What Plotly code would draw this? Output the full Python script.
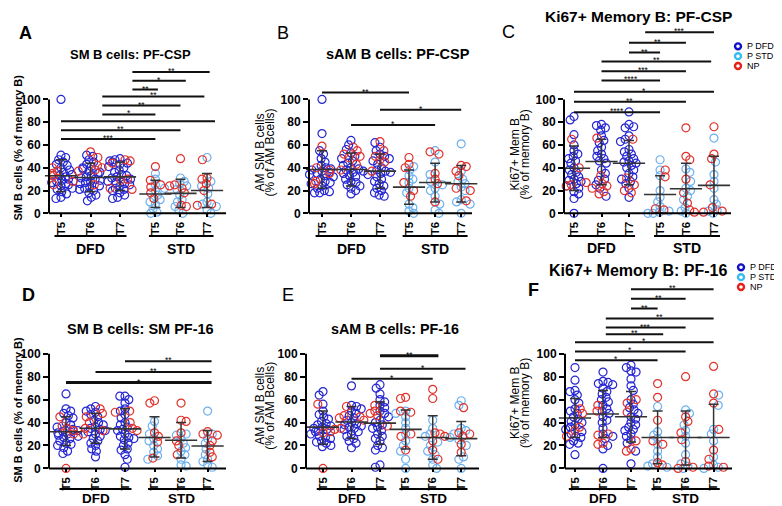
import math
import plotly.graph_objects as go

W, H = 782, 506
FONT = "Liberation Sans, Arial, Helvetica, sans-serif"

# ---------------- text / categories ----------------
TICK_LABELS = ["T5", "T6", "T7", "T5", "T6", "T7"]
GROUP_LABELS = ["DFD", "STD"]
SERIES = ["P DFD", "P STD", "NP"]
Y_TICKS = [0, 20, 40, 60, 80, 100]
PANEL_LETTERS = ["A", "B", "C", "D", "E", "F"]
PANEL_TITLES = ["SM B cells: PF-CSP", "sAM B cells: PF-CSP", "Ki67+ Memory B: PF-CSP",
                "SM B cells: SM PF-16", "sAM B cells: PF-16", "Ki67+ Memory B: PF-16"]
Y_TITLES = [["SM B cells (% of memory B)"], ["AM SM B cells", "(% of AM Bcells)"],
            ["Ki67+ Mem B", "(% of memory B)"], ["SM B cells (% of memory B)"],
            ["AM SM B cells", "(% of AM Bcells)"], ["Ki67+ Mem B", "(% of memory B)"]]

# ---------------- data: per panel, 6 groups (DFD T5-T7, STD T5-T7) ----------------
# *_P  : patients (P DFD for first 3 groups, P STD for last 3)
# *_NP : non-parasitaemic
A_P = [[100, 51, 49, 47, 45, 43, 42, 40, 38, 36, 34, 33, 32, 31, 30, 29, 28, 27, 26, 25, 24, 23, 22, 21, 19, 17, 14, 13],
       [51, 50, 47, 45, 43, 41, 40, 39, 37, 36, 35, 33, 32, 31, 30, 29, 28, 27, 26, 24, 23, 22, 21, 20, 18, 16, 14, 11],
       [48, 47, 46, 45, 44, 43, 41, 40, 38, 36, 34, 33, 32, 31, 30, 28, 27, 26, 25, 24, 22, 21, 20, 18, 16, 14, 13],
       [35, 30, 25, 22, 20, 16, 12, 10, 8, 4, 1, 0],
       [31, 28, 26, 24, 21, 16, 12, 10, 6, 3, 0],
       [49, 28, 24, 22, 17, 10, 8, 6, 3, 0]]
A_NP = [[40, 37, 35, 33, 28, 25], [54, 49, 42, 40, 38, 37, 25], [47, 46, 44, 30, 29, 22, 21],
        [41, 29, 25, 23, 18, 13], [48, 25, 24, 22, 18, 7, 6], [47, 31, 30, 26, 20, 8, 7]]
A_MID = [33, 31.5, 32, 17, 17.5, 20]
A_LO = [19, 19, 20, 5, 5, 5]
A_HI = [47, 44, 45, 29, 30, 35]

B_P = [[100, 70, 55, 52, 48, 45, 42, 40, 39, 38, 37, 36, 35, 34, 33, 32, 30, 28, 27, 26, 24, 22, 20, 19, 18, 18],
       [64, 60, 56, 53, 50, 48, 46, 44, 42, 40, 39, 38, 37, 36, 35, 33, 32, 30, 28, 27, 25, 24, 22, 20, 17],
       [62, 58, 55, 52, 50, 48, 46, 43, 40, 38, 37, 36, 35, 34, 32, 30, 28, 26, 24, 22, 20, 18, 16, 15],
       [41, 38, 33, 30, 27, 22, 18, 8, 5, 2, 0],
       [55, 45, 34, 28, 25, 22, 20, 15, 8, 3, 0],
       [61, 37, 30, 28, 26, 23, 20, 12, 10, 8, 0]]
B_NP = [[59, 40, 38, 35, 28, 26], [58, 55, 52, 50, 49, 43, 38], [63, 55, 50, 47, 45, 37],
        [49, 43, 40, 27, 20, 15], [54, 52, 35, 30, 26, 10], [42, 41, 37, 33, 22, 20, 11]]
B_MID = [38.5, 38.5, 37, 23, 27, 26]
B_LO = [22, 24, 22, 8, 10, 10]
B_HI = [55, 53, 52, 38, 44, 42]

C_P = [[85, 82, 69, 60, 55, 52, 50, 48, 46, 44, 40, 38, 36, 34, 32, 30, 29, 28, 26, 24, 22, 19, 17, 13, 0],
       [78, 77, 75, 73, 68, 64, 62, 58, 55, 52, 50, 48, 46, 44, 38, 35, 30, 29, 25, 22, 15],
       [89, 78, 76, 75, 68, 65, 63, 56, 54, 52, 50, 48, 46, 45, 44, 42, 40, 38, 35, 32, 30, 28, 26, 22, 14],
       [47, 38, 33, 20, 14, 10, 6, 2, 1, 0, 0],
       [39, 36, 28, 22, 20, 15, 12, 5, 2, 0],
       [66, 45, 34, 28, 22, 12, 8, 3, 2, 0]]
C_NP = [[65, 40, 28, 27, 25, 24], [66, 33, 26, 24, 22, 19, 17], [65, 31, 25, 20, 18],
        [38, 32, 4, 3], [75, 50, 47, 30, 18, 9, 3, 1], [76, 52, 48, 25, 5, 2, 1]]
C_MID = [39.5, 45.5, 44, 16.5, 21.5, 24.5]
C_LO = [20, 25, 25, 0, 0, 0]
C_HI = [59, 65, 64, 33, 44, 50]

D_P = [[65, 52, 50, 48, 46, 44, 40, 38, 36, 34, 33, 32, 31, 30, 29, 28, 27, 26, 24, 22, 21, 20, 18, 15, 13],
       [54, 52, 50, 49, 47, 45, 42, 40, 38, 36, 35, 34, 33, 32, 30, 28, 26, 24, 22, 20, 17, 15, 10],
       [63, 63, 60, 57, 52, 50, 47, 44, 40, 38, 36, 34, 33, 30, 28, 27, 26, 25, 22, 20, 17, 16, 12, 8, 1],
       [41, 37, 30, 26, 24, 20, 17, 14, 11, 8],
       [30, 29, 26, 22, 18, 15, 12, 8, 3, 2],
       [50, 30, 26, 22, 17, 12, 8, 6, 3, 1]]
D_NP = [[45, 37, 35, 33, 30, 0], [52, 48, 45, 40, 35, 33, 30], [50, 49, 40, 35, 33],
        [59, 57, 31, 28, 23, 9], [57, 42, 41, 31, 24, 20, 12], [32, 30, 29, 24, 20, 14, 10]]
D_MID = [32, 35, 34.5, 27, 24.5, 19.5]
D_LO = [20, 22, 17, 10, 9, 6]
D_HI = [45, 48, 52, 45, 40, 33]

E_P = [[67, 64, 56, 50, 47, 45, 43, 41, 39, 38, 37, 36, 35, 34, 33, 32, 30, 28, 27, 26, 24, 23, 22, 20, 19],
       [72, 55, 54, 52, 50, 48, 46, 44, 42, 40, 39, 38, 37, 36, 35, 34, 32, 30, 28, 26, 24, 22, 18],
       [73, 70, 65, 60, 58, 55, 53, 50, 48, 45, 42, 40, 38, 36, 35, 33, 30, 28, 26, 24, 20, 18, 16, 3, 1],
       [50, 48, 45, 40, 35, 30, 24, 20, 15, 8, 0],
       [42, 35, 30, 28, 23, 20, 15, 12, 8, 3, 0],
       [59, 55, 35, 33, 30, 27, 25, 20, 10, 8, 0]]
E_NP = [[56, 34, 32, 31, 0], [54, 46, 45, 44, 42, 35], [55, 50, 48, 46, 37],
        [62, 61, 50, 49, 30, 28, 16], [69, 61, 31, 30, 28, 24, 16, 8], [53, 31, 30, 28, 21, 14]]
E_MID = [36, 40.5, 39.5, 34, 27, 26]
E_LO = [21, 26, 21, 17, 8, 11]
E_HI = [50, 54, 58, 51, 46, 41]

F_P = [[88, 77, 68, 67, 64, 60, 57, 52, 50, 48, 45, 43, 41, 40, 38, 36, 34, 32, 30, 28, 27, 24, 22, 21, 12],
       [84, 76, 75, 74, 73, 70, 67, 65, 62, 60, 58, 55, 52, 50, 48, 45, 42, 40, 35, 30, 28, 26, 20, 17, 0],
       [90, 88, 85, 84, 78, 72, 68, 60, 56, 53, 51, 48, 45, 43, 40, 38, 36, 34, 33, 30, 28, 25, 22, 15, 4],
       [54, 32, 29, 26, 21, 15, 10, 4, 2, 1],
       [51, 48, 38, 33, 28, 22, 12, 4, 2, 0],
       [64, 55, 34, 30, 24, 10, 3, 1, 0]]
F_NP = [[52, 48, 36, 33, 28], [55, 50, 30, 29, 22, 21], [60, 57, 49, 24, 17, 15],
        [74, 62, 42, 24, 21, 5, 3], [80, 45, 41, 31, 25, 6, 1, 0], [89, 65, 57, 34, 16, 8, 2, 1]]
F_MID = [44, 47.5, 45, 27, 27, 27]
F_LO = [27, 27, 23, 4, 3, 0]
F_HI = [61, 68, 67, 50, 50, 56]

# significance bars: (from category index, to category index, level, stars)
A_SIG = [(0, 3, 65.3, "***"), (0, 4, 73.0, "**"), (0, 5.3, 80.8, ""), (1.4, 3, 86.8, "*"),
         (1.4, 4, 94.6, "**"), (1.4, 4.9, 102.6, "**"), (2.35, 3.1, 108.6, "**"),
         (2.35, 4.2, 116.4, "*"), (2.35, 5.1, 124.1, "**")]
B_SIG = [(0, 3, 106.0, "**"), (2, 5, 90.8, "*"), (1, 4, 77.6, "*")]
C_SIG = [(2.52, 5, 158.9, "***"), (2, 4, 149.7, "**"), (2, 3, 141.1, "**"), (1, 4.9, 133.3, "**"),
         (1, 4, 124.7, "***"), (1, 3, 116.6, "****"), (0, 5, 106.6, "*"), (0, 4, 98.0, "**"),
         (0, 3, 88.8, "****")]
D_SIG = [(2, 5.15, 93.4, "**"), (1, 5.15, 84.0, "**"), (0, 5.15, 74.9, "*")]
E_SIG = [(2, 4.2, 98.3, "**"), (2, 5.15, 86.9, "*"), (1, 4, 78.3, "*")]
F_SIG = [(2, 5, 156.3, "**"), (2, 4, 148.0, "**"), (2, 3, 139.4, "**"), (1.1, 5, 130.8, "**"),
         (1.1, 4, 122.9, "***"), (1.1, 3.2, 117.1, "**"), (0, 5, 110.0, "*"), (0, 4, 102.0, "*"),
         (0, 3, 94.3, "*")]

COLORS = {"P DFD": "#2626d2", "P STD": "#6eb0ee", "NP": "#e2322c"}
LEGEND_COLORS = {"P DFD": "#1010c8", "P STD": "#38bdf0", "NP": "#e8201a"}
ERR_COLOR = "#333333"

# ---------------- layout geometry (pixels) ----------------
PANELS = [
    dict(ax=41, xend=218, p0=53, u=29.5, pos=[0, 1, 2, 3.2, 4.05, 4.95], y0=207, y100=91, top=50,
         title=(122, 45, 13), letter=(17, 23, True), ytl=[(10, 140)], ytbold=True, ytsize=11,
         legend=None, thick=[], grp=(23, 36, 14)),
    dict(ax=301, xend=464, p0=314, u=29, pos=[0, 1, 2, 3, 3.9, 4.8], y0=207, y100=91, top=70,
         title=(390, 45, 14.5), letter=(275, 23, False), ytl=[(252, 145), (262, 145)], ytbold=False, ytsize=12,
         legend=None, thick=[], grp=(23, 36, 14)),
    dict(ax=556, xend=723, p0=566, u=27.5, pos=[0, 1, 2, 3.13, 4.07, 5.09], y0=207, y100=91, top=14,
         title=(630, 7, 15.5), letter=(500, 22, False), ytl=[(507, 147), (517, 147)], ytbold=False, ytsize=12,
         legend=(730, 37, 10), thick=[], grp=(23, 35, 14)),
    dict(ax=41, xend=218, p0=58, u=29.5, pos=[0, 1, 2, 3, 3.9, 4.8], y0=466.7, y100=350, top=345,
         title=(132, 325, 14.5), letter=(20, 290, True), ytl=[(10, 407)], ytbold=True, ytsize=11,
         legend=None, thick=[2], grp=(21, 30.5, 13.5)),
    dict(ax=298, xend=471, p0=315, u=28.5, pos=[0, 1, 2, 2.9, 3.85, 4.85], y0=466.7, y100=350, top=340,
         title=(387, 325, 14.3), letter=(280, 290, False), ytl=[(252, 403), (262, 403)], ytbold=False, ytsize=12,
         legend=None, thick=[0], grp=(21, 30.5, 13.5)),
    dict(ax=557, xend=724, p0=567, u=28, pos=[0, 1, 2, 2.95, 3.95, 4.95], y0=466.7, y100=350, top=275,
         title=(630, 265, 16), letter=(525, 285, True), ytl=[(507, 400), (517, 400)], ytbold=False, ytsize=12,
         legend=(733, 262, 10), thick=[], grp=(21, 30.5, 13.5)),
]
DATA = [(A_P, A_NP, A_MID, A_LO, A_HI, A_SIG), (B_P, B_NP, B_MID, B_LO, B_HI, B_SIG),
        (C_P, C_NP, C_MID, C_LO, C_HI, C_SIG), (D_P, D_NP, D_MID, D_LO, D_HI, D_SIG),
        (E_P, E_NP, E_MID, E_LO, E_HI, E_SIG), (F_P, F_NP, F_MID, F_LO, F_HI, F_SIG)]


def swarm(vals, s, D=5.2, cap=12.5):
    order = sorted(range(len(vals)), key=lambda i: -vals[i])
    placed, offs = [], [0.0] * len(vals)
    for n, i in enumerate(order):
        y = vals[i] * s
        near = [(xj, yj) for xj, yj in placed if abs(yj - y) < D]
        cands = [0.0]
        for xj, yj in near:
            dx = math.sqrt(max(D * D - (yj - y) ** 2, 0))
            cands += [xj - dx, xj + dx]
        sign = 1 if n % 2 == 0 else -1
        cands.sort(key=lambda c: (round(abs(c), 3), -sign * c))
        best = 0.0
        for c in cands:
            if abs(c) > cap:
                continue
            if all((c - xj) ** 2 + (y - yj) ** 2 >= D * D - 1e-6 for xj, yj in near):
                best = c
                break
        else:
            best = sign * cap * 0.6
        offs[i] = best
        placed.append((best, y))
    return offs


def cat_x(pos, idx):
    if idx <= 0:
        return pos[0] + idx * (pos[1] - pos[0])
    if idx >= len(pos) - 1:
        return pos[-1] + (idx - len(pos) + 1) * (pos[-1] - pos[-2])
    k = int(math.floor(idx))
    f = idx - k
    return pos[k] + f * (pos[k + 1] - pos[k])


fig = go.Figure()
layout = dict(width=W, height=H, margin=dict(l=0, r=0, t=0, b=0), paper_bgcolor="white",
              plot_bgcolor="rgba(0,0,0,0)", showlegend=False, font=dict(family=FONT, color="black"))
shapes, annotations = [], []

for k, (cfg, (P, NP, MID, LO, HI, SIG)) in enumerate(zip(PANELS, DATA), start=1):
    xa = "x" if k == 1 else f"x{k}"
    ya = "y" if k == 1 else f"y{k}"
    s = (cfg["y0"] - cfg["y100"]) / 100.0
    u = cfg["u"]
    pos = cfg["pos"]
    x_dom = [cfg["ax"] / W, cfg["xend"] / W]
    x_rng = [(cfg["ax"] - cfg["p0"]) / u, (cfg["xend"] - cfg["p0"]) / u]
    y_dom = [1 - cfg["y0"] / H, 1 - cfg["top"] / H]
    y_rng = [0, (cfg["y0"] - cfg["top"]) / s]

    def xp(v):
        return x_dom[0] + (v - x_rng[0]) / (x_rng[1] - x_rng[0]) * (x_dom[1] - x_dom[0])

    def yp(v):
        return y_dom[0] + (v - y_rng[0]) / (y_rng[1] - y_rng[0]) * (y_dom[1] - y_dom[0])

    # points
    pts = {"P DFD": ([], []), "P STD": ([], []), "NP": ([], [])}
    for g in range(6):
        main_name = "P DFD" if g < 3 else "P STD"
        vals = list(P[g]) + list(NP[g])
        offs = swarm(vals, s)
        for i, v in enumerate(vals):
            name = main_name if i < len(P[g]) else "NP"
            pts[name][0].append(pos[g] + offs[i] / u)
            pts[name][1].append(v)
    for name in SERIES:
        if not pts[name][0]:
            continue
        fig.add_trace(go.Scatter(x=pts[name][0], y=pts[name][1], mode="markers", xaxis=xa, yaxis=ya,
                                 marker=dict(symbol="circle-open", size=8, color=COLORS[name],
                                             line=dict(width=1.2, color=COLORS[name])),
                                 cliponaxis=False, hoverinfo="skip", name=name))
    # mean +- spread
    fig.add_trace(go.Scatter(x=pos, y=MID, mode="markers", xaxis=xa, yaxis=ya, cliponaxis=False,
                             marker=dict(symbol="line-ew", size=23, color=ERR_COLOR,
                                         line=dict(width=1.6, color=ERR_COLOR)),
                             error_y=dict(type="data", symmetric=False,
                                          array=[h - m for h, m in zip(HI, MID)],
                                          arrayminus=[m - l for m, l in zip(MID, LO)],
                                          color=ERR_COLOR, thickness=1.5, width=5),
                             hoverinfo="skip"))

    layout[f"xaxis{'' if k == 1 else k}"] = dict(
        domain=x_dom, range=x_rng, anchor=ya, tickmode="array", tickvals=pos, ticktext=TICK_LABELS,
        tickangle=-90, ticks="outside", ticklen=3, tickwidth=1.5, tickcolor="black", showline=False,
        showgrid=False, zeroline=False, fixedrange=True,
        tickfont=dict(family=FONT, size=11.5, color="black", weight="bold"))
    layout[f"yaxis{'' if k == 1 else k}"] = dict(
        domain=y_dom, range=y_rng, anchor=xa, tickmode="array", tickvals=Y_TICKS, ticks="outside",
        ticklen=5, tickwidth=2, tickcolor="black", showline=False, showgrid=False, zeroline=False,
        fixedrange=True, tickfont=dict(family=FONT, size=12, color="black", weight="bold"))

    # axis lines (y axis only spans 0..100)
    shapes.append(dict(type="line", xref="paper", yref="paper", x0=x_dom[0], x1=x_dom[0],
                       y0=yp(0), y1=yp(100), line=dict(color="black", width=2)))
    shapes.append(dict(type="line", xref="paper", yref="paper", x0=x_dom[0], x1=x_dom[1],
                       y0=yp(0), y1=yp(0), line=dict(color="black", width=2)))

    # group underlines and labels
    goff, loff, gsz = cfg["grp"]
    gy = 1 - (cfg["y0"] + goff) / H
    ly = 1 - (cfg["y0"] + loff) / H
    for gi, (a, b) in enumerate([(0, 2), (3, 5)]):
        x0, x1 = xp(pos[a] - 0.22), xp(pos[b] + 0.22)
        shapes.append(dict(type="line", xref="paper", yref="paper", x0=x0, x1=x1, y0=gy, y1=gy,
                           line=dict(color="black", width=2)))
        annotations.append(dict(xref="paper", yref="paper", x=(x0 + x1) / 2, y=ly, text=GROUP_LABELS[gi],
                                showarrow=False, xanchor="center", yanchor="middle", borderpad=0,
                                font=dict(family=FONT, size=gsz, color="black", weight="bold")))

    # significance bars
    for j, (i0, i1, lev, lab) in enumerate(SIG):
        x0, x1 = cat_x(pos, i0), cat_x(pos, i1)
        w = 3 if j in cfg["thick"] else 2
        shapes.append(dict(type="line", xref=xa, yref=ya, x0=x0, x1=x1, y0=lev, y1=lev,
                           line=dict(color="#111111", width=w)))
        if lab:
            annotations.append(dict(xref=xa, yref=ya, x=(x0 + x1) / 2, y=lev, text=lab, showarrow=False,
                                    xanchor="center", yanchor="bottom", yshift=-5, borderpad=0,
                                    font=dict(family=FONT, size=8.5, color="black")))

    # title, letter, y-title
    tx, ty, tsz = cfg["title"]
    annotations.append(dict(xref="paper", yref="paper", x=tx / W, y=1 - ty / H, text=PANEL_TITLES[k - 1],
                            showarrow=False, xanchor="center", yanchor="middle", borderpad=0,
                            font=dict(family=FONT, size=tsz, color="black", weight="bold")))
    lx, lyy, lb = cfg["letter"]
    annotations.append(dict(xref="paper", yref="paper", x=lx / W, y=1 - lyy / H, text=PANEL_LETTERS[k - 1],
                            showarrow=False, xanchor="center", yanchor="middle",
                            font=dict(family=FONT, size=18, color="black",
                                      weight="bold" if lb else "normal")))
    for (yx, yy), txt in zip(cfg["ytl"], Y_TITLES[k - 1]):
        annotations.append(dict(xref="paper", yref="paper", x=yx / W, y=1 - yy / H, text=txt, textangle=-90,
                                showarrow=False, xanchor="center", yanchor="middle",
                                font=dict(family=FONT, size=cfg["ytsize"], color="black",
                                          weight="bold" if cfg["ytbold"] else "normal")))

    # legend
    if cfg["legend"]:
        gx, gy0, dy = cfg["legend"]
        for li, name in enumerate(SERIES):
            cy = gy0 + li * dy
            shapes.append(dict(type="circle", xref="paper", yref="paper", x0=(gx - 3) / W, x1=(gx + 3) / W,
                               y0=1 - (cy + 3) / H, y1=1 - (cy - 3) / H,
                               line=dict(color=LEGEND_COLORS[name], width=2.4)))
            annotations.append(dict(xref="paper", yref="paper", x=(gx + 8) / W, y=1 - cy / H, text=name,
                                    showarrow=False, xanchor="left", yanchor="middle", borderpad=0,
                                    font=dict(family=FONT, size=9, color="black")))

layout["shapes"] = shapes
layout["annotations"] = annotations
fig.update_layout(**layout)
fig.write_html("out.html")
